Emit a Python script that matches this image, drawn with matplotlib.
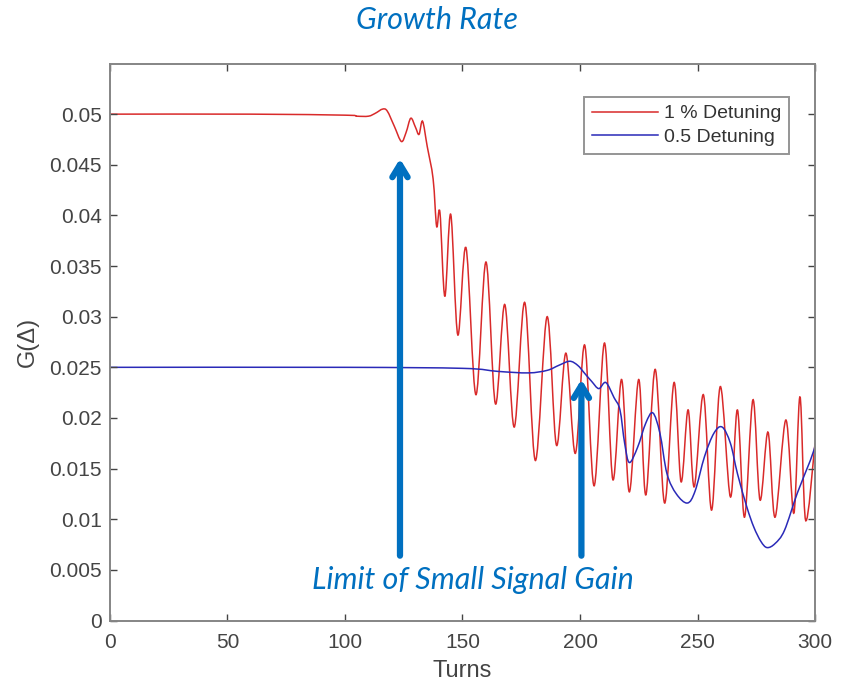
import matplotlib.pyplot as plt
from matplotlib.path import Path
from matplotlib.patches import PathPatch

# red curve: 1 % detuning (turns, G)
red_x = [0, 60, 100, 105, 110, 113, 116, 118, 121, 124, 126, 128, 130, 131.5, 133,
         135, 137.5, 139, 140.4, 142.5, 145, 148, 151.5, 155.7, 160, 164, 168, 172,
         176.5, 181, 186, 190, 194, 198, 202, 206, 210.4, 214, 217.7, 221, 225, 228,
         232, 236, 240, 243, 246, 248.6, 252.5, 256, 259.7, 264, 267, 270, 273.6,
         276.6, 280, 283, 287.6, 291, 293.6, 296, 300]
red_y = [0.05, 0.05, 0.0499, 0.0498, 0.0498, 0.0501, 0.0505, 0.0503, 0.0488, 0.0473,
         0.0482, 0.0496, 0.0487, 0.048, 0.0493, 0.0468, 0.0436, 0.0389, 0.0403,
         0.032, 0.0401, 0.0282, 0.0368, 0.0223, 0.0354, 0.0214, 0.0312, 0.0191,
         0.0314, 0.0158, 0.03, 0.0173, 0.0264, 0.0165, 0.0272, 0.0133, 0.0274,
         0.0139, 0.0238, 0.0127, 0.0238, 0.0124, 0.0248, 0.0116, 0.0235, 0.0137,
         0.0208, 0.0132, 0.0223, 0.0109, 0.0231, 0.0122, 0.0208, 0.0102, 0.0218,
         0.0119, 0.0186, 0.0102, 0.0198, 0.0106, 0.0221, 0.0099, 0.0175]

# blue curve: 0.5 detuning
blue_x = [0, 100, 150, 165, 178, 186, 191, 195.6, 199, 202, 205, 208, 211, 214.5,
          217, 219, 221, 224.5, 228, 231, 234, 237, 241, 245.7, 249, 253, 257,
          260.5, 264, 267, 271, 274, 277, 279.6, 283, 287, 292.5, 298, 300]
blue_y = [0.025, 0.025, 0.0249, 0.0246, 0.02445, 0.0247, 0.0252, 0.0256, 0.0252,
          0.0244, 0.0236, 0.0229, 0.0235, 0.022, 0.0208, 0.0175, 0.0156, 0.0171,
          0.0195, 0.0205, 0.0185, 0.0145, 0.0125, 0.0116, 0.0128, 0.0162, 0.0185,
          0.0191, 0.0175, 0.0145, 0.0112, 0.0092, 0.0078, 0.0072, 0.0076, 0.0089,
          0.0126, 0.0158, 0.0172]

xticks = [0, 50, 100, 150, 200, 250, 300]
yticks = [0, 0.005, 0.01, 0.015, 0.02, 0.025, 0.03, 0.035, 0.04, 0.045, 0.05]
ytick_labels = ['0', '0.005', '0.01', '0.015', '0.02', '0.025', '0.03', '0.035',
                '0.04', '0.045', '0.05']

note_blue = '#0070c0'
red = '#d92a2a'
blue = '#2a2ab8'
plt.rcParams['font.family'] = ['Liberation Sans', 'DejaVu Sans']


def smooth_path(xs, ys):
    # catmull-rom through the read points, drawn as cubic bezier segments
    verts = [(xs[0], ys[0])]
    codes = [Path.MOVETO]
    n = len(xs)
    for i in range(n - 1):
        x0, y0 = (xs[i - 1], ys[i - 1]) if i > 0 else (xs[i], ys[i])
        x1, y1 = xs[i], ys[i]
        x2, y2 = xs[i + 1], ys[i + 1]
        x3, y3 = (xs[i + 2], ys[i + 2]) if i + 2 < n else (x2, y2)
        c1 = (x1 + (x2 - x0) / 6, y1 + (y2 - y0) / 6)
        c2 = (x2 - (x3 - x1) / 6, y2 - (y3 - y1) / 6)
        verts += [c1, c2, (x2, y2)]
        codes += [Path.CURVE4] * 3
    return Path(verts, codes)


fig = plt.figure(figsize=(8.48, 6.83), dpi=100)
ax = fig.add_axes([0.1297, 0.0915, 0.8314, 0.8155])

ax.add_patch(PathPatch(smooth_path(red_x, red_y), fill=False, edgecolor=red, lw=1.1))
ax.add_patch(PathPatch(smooth_path(blue_x, blue_y), fill=False, edgecolor=blue, lw=1.1))
ax.plot([], [], color=red, lw=1.1, label='1 % Detuning')
ax.plot([], [], color=blue, lw=1.1, label='0.5 Detuning')

ax.set_xlim(0, 300)
ax.set_ylim(0, 0.055)
ax.set_xticks(xticks)
ax.set_yticks(yticks)
ax.set_yticklabels(ytick_labels)
ax.tick_params(direction='in', top=True, right=True, labelsize=15,
               colors='#444444', length=5, width=1)
ax.tick_params(axis='x', pad=9)
ax.tick_params(axis='y', pad=6)
for s in ax.spines.values():
    s.set_color('#858585')
    s.set_linewidth(1.4)
ax.set_xlabel('Turns', fontsize=17, color='#444444', labelpad=6)
ax.set_ylabel('G(Δ)', fontsize=17, color='#444444', labelpad=7)

leg = ax.legend(loc='upper right', bbox_to_anchor=(0.963, 0.94), borderaxespad=0,
                fontsize=14, frameon=True, fancybox=False, handlelength=3.4,
                borderpad=0.4, labelspacing=0.3, handletextpad=0.3)
leg.get_frame().set_edgecolor('#7a7a7a')
leg.get_frame().set_linewidth(1.4)
for t in leg.get_texts():
    t.set_color('#333333')

# annotation arrows
arrow = dict(arrowstyle='->,head_length=0.9,head_width=0.55', color=note_blue,
             lw=4.5, shrinkA=0, shrinkB=0)
ax.annotate('', xy=(123.4, 0.0456), xytext=(123.4, 0.0064), arrowprops=arrow)
ax.annotate('', xy=(200.6, 0.0238), xytext=(200.6, 0.0064), arrowprops=arrow)

fig.text(0.558, 0.151, 'Limit of Small Signal Gain', ha='center', va='center',
         fontsize=22, style='italic', color=note_blue, family=['Lato', 'DejaVu Sans'])
fig.text(0.5153, 0.970, 'Growth Rate', ha='center', va='center', fontsize=22,
         style='italic', color=note_blue, family=['Lato', 'DejaVu Sans'])

fig.savefig('out.png', dpi=100)
